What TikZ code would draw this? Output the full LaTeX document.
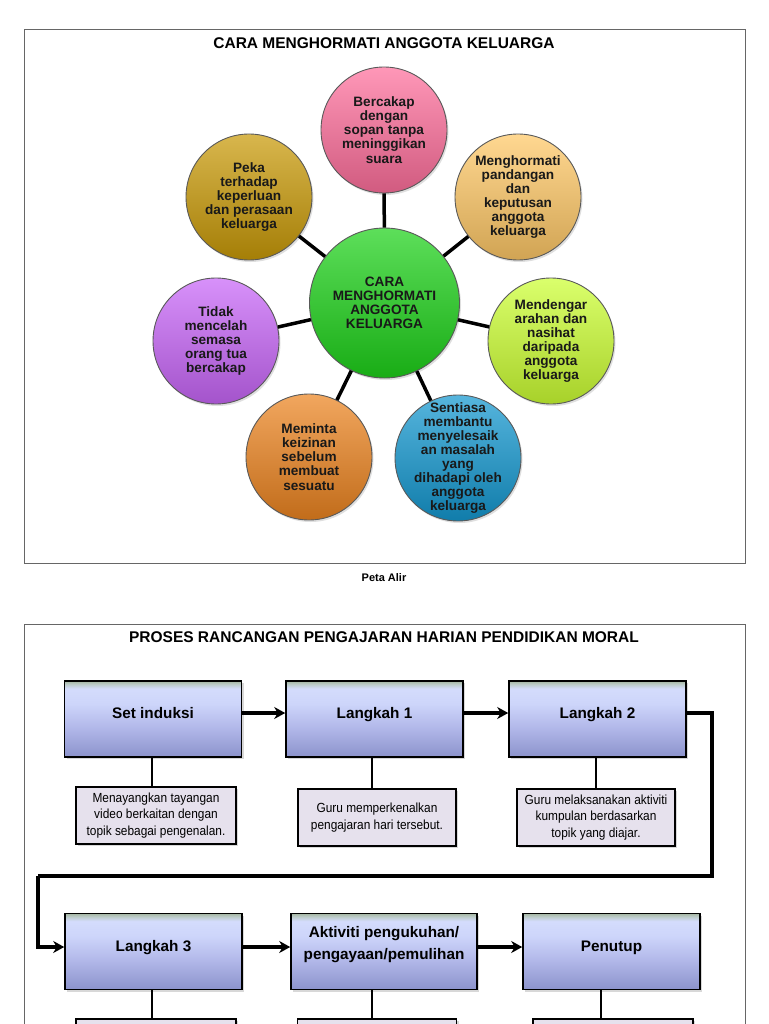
\documentclass[tikz,border=0pt]{standalone}
\usepackage{fontspec}
\setmainfont{Liberation Sans}
\newfontfamily\subfont[FakeStretch=0.9]{Liberation Sans}
\usetikzlibrary{arrows.meta,shadows}
\definecolor{cpink}{HTML}{FF6F9C}
\definecolor{cgold}{HTML}{C99A08}
\definecolor{clorange}{HTML}{FFC866}
\definecolor{cpurple}{HTML}{C866F8}
\definecolor{cyellow}{HTML}{CCFF33}
\definecolor{corange}{HTML}{EC8420}
\definecolor{cblue}{HTML}{1498D0}
\definecolor{cgreen}{HTML}{1ED21A}
\definecolor{subfill}{HTML}{E6E1ED}
\definecolor{framegray}{HTML}{666666}
\definecolor{bxA}{HTML}{8C93CC}
\definecolor{bxB}{HTML}{B3B9EA}
\definecolor{bxC}{HTML}{CDD5FA}
\definecolor{bxD}{HTML}{D4DCFC}
\definecolor{bxE}{HTML}{BCCBC8}
\definecolor{bxF}{HTML}{A4B6A2}
\pgfdeclareverticalshading{boxshade}{100bp}{color(0bp)=(bxA); color(25bp)=(bxA); color(45bp)=(bxB); color(60bp)=(bxC); color(70bp)=(bxD); color(73bp)=(bxE); color(75bp)=(bxF); color(100bp)=(bxF)}
\begin{document}
\begin{tikzpicture}[x=1pt,y=-1pt,
  frame/.style={draw=framegray, line width=1pt},
  bubble/.style={circle, draw=black!65, line width=0.9pt, minimum size=126pt, inner sep=-20pt,
    align=center, text=black!90, font=\bfseries\fontsize{13.6}{14.1}\selectfont,
    top color=#1!72!white, middle color=#1, bottom color=#1!82!black,
    drop shadow={opacity=0.25, shadow xshift=1.5pt, shadow yshift=-2pt}},
  spoke/.style={line width=3.5pt, black},
  mainbox/.style={draw=black, line width=1.6pt, minimum width=177pt, minimum height=76pt,
    inner sep=0pt, shading=boxshade,
    drop shadow={opacity=0.3, shadow xshift=2pt, shadow yshift=-2pt}},
  boxlabel/.style={font=\bfseries\fontsize{15.3}{22}\selectfont, align=center, yshift=6pt},
  oneline/.style={text height=11pt, text depth=0pt},
  subbox/.style={draw=black, line width=1.3pt, fill=subfill, minimum width=160pt, minimum height=57pt,
    inner sep=0pt, align=center, font=\subfont\fontsize{13.2}{16.5}\selectfont,
    drop shadow={opacity=0.3, shadow xshift=2pt, shadow yshift=-2pt}},
  conn/.style={line width=2.8pt, black},
  arr/.style={line width=3.2pt, black, -{Stealth[length=11pt,width=12pt,inset=3.5pt]}},
  ttl/.style={font=\bfseries\fontsize{15.5}{18}\selectfont}
]
\useasboundingbox[fill=white] (0,0) rectangle (768,1024);

% ---------- top panel ----------
\draw[frame] (24,30) rectangle (745,563);
\node[ttl] (t1) at (384,43) {CARA MENGHORMATI ANGGOTA KELUARGA};

\node[bubble=cgreen, minimum size=150pt] (c) at (384.5,303) {CARA\\MENGHORMATI\\ANGGOTA\\KELUARGA};
\node[bubble=cpink] (p1) at (384,130) {Bercakap\\dengan\\sopan tanpa\\meninggikan\\suara};
\node[bubble=cgold] (p2) at (249,197) {Peka\\terhadap\\keperluan\\dan perasaan\\keluarga};
\node[bubble=clorange] (p3) at (518,197) {Menghormati\\pandangan\\dan\\keputusan\\anggota\\keluarga};
\node[bubble=cpurple] (p4) at (216,341) {Tidak\\mencelah\\semasa\\orang tua\\bercakap};
\node[bubble=cyellow] (p5) at (551,341) {Mendengar\\arahan dan\\nasihat\\daripada\\anggota\\keluarga};
\node[bubble=corange] (p6) at (309,457) {Meminta\\keizinan\\sebelum\\membuat\\sesuatu};
\node[bubble=cblue] (p7) at (458,458) {Sentiasa\\membantu\\menyelesaik\\an masalah\\yang\\dihadapi oleh\\anggota\\keluarga};
\foreach \p in {p1,p2,p3,p4,p5,p6,p7} \draw[spoke] (c) -- (\p);

\node[font=\bfseries\fontsize{11}{12}\selectfont] (cap) at (384,578) {Peta Alir};

% ---------- bottom panel ----------
\draw[frame] (24,1100) -- (24,624) -- (745,624) -- (745,1100);
\node[ttl] (t2) at (384,637) {PROSES RANCANGAN PENGAJARAN HARIAN PENDIDIKAN MORAL};

\node[mainbox, label={[boxlabel,oneline]center:Set induksi}] (si) at (153,719) {};
\node[mainbox, label={[boxlabel,oneline]center:Langkah 1}] (l1) at (374.5,719) {};
\node[mainbox, label={[boxlabel,oneline]center:Langkah 2}] (l2) at (597.5,719) {};

\node[subbox] (s1) at (156,815.5) {Menayangkan tayangan\\video berkaitan dengan\\topik sebagai pengenalan.};
\node[subbox, minimum width=158pt] (s2) at (377,817.5) {Guru memperkenalkan\\pengajaran hari tersebut.};
\node[subbox, minimum width=158pt] (s3) at (596,817.5) {Guru melaksanakan aktiviti\\kumpulan berdasarkan\\topik yang diajar.};

\draw[conn] (si.south -| 152,0) -- (s1.north -| 152,0);
\draw[conn] (l1.south -| 372,0) -- (s2.north -| 372,0);
\draw[conn] (l2.south -| 596,0) -- (s3.north -| 596,0);

\draw[arr] ([yshift=6pt]si.east) -- ([yshift=6pt]l1.west);
\draw[arr] ([yshift=6pt]l1.east) -- ([yshift=6pt]l2.west);

\node[mainbox, label={[boxlabel,oneline]center:Langkah 3}] (l3) at (153.5,951.5) {};
\node[mainbox, minimum width=186pt, label={[boxlabel, yshift=0.5pt]center:Aktiviti pengukuhan/\\pengayaan/pemulihan}] (ak) at (384,951.5) {};
\node[mainbox, label={[boxlabel,oneline]center:Penutup}] (pe) at (611.5,951.5) {};

\coordinate (loopR) at (712,876);
\coordinate (loopL) at (38,876);
\draw[line width=3.2pt, black] ([yshift=6pt]l2.east) -| (loopR) -- (loopL);
\draw[arr] (loopL) |- ([yshift=4.5pt]l3.west);
\draw[arr] ([yshift=4.5pt]l3.east) -- ([yshift=4.5pt]ak.west);
\draw[arr] ([yshift=4.5pt]ak.east) -- ([yshift=4.5pt]pe.west);

\node[subbox] (s4) at (156,1047.5) {};
\node[subbox, minimum width=159pt] (s5) at (377,1047.5) {};
\node[subbox] (s6) at (613,1047.5) {};
\draw[conn] (l3.south -| 152,0) -- (s4.north -| 152,0);
\draw[conn] (ak.south -| 372,0) -- (s5.north -| 372,0);
\draw[conn] (pe.south -| 601,0) -- (s6.north -| 601,0);
\end{tikzpicture}
\end{document}
